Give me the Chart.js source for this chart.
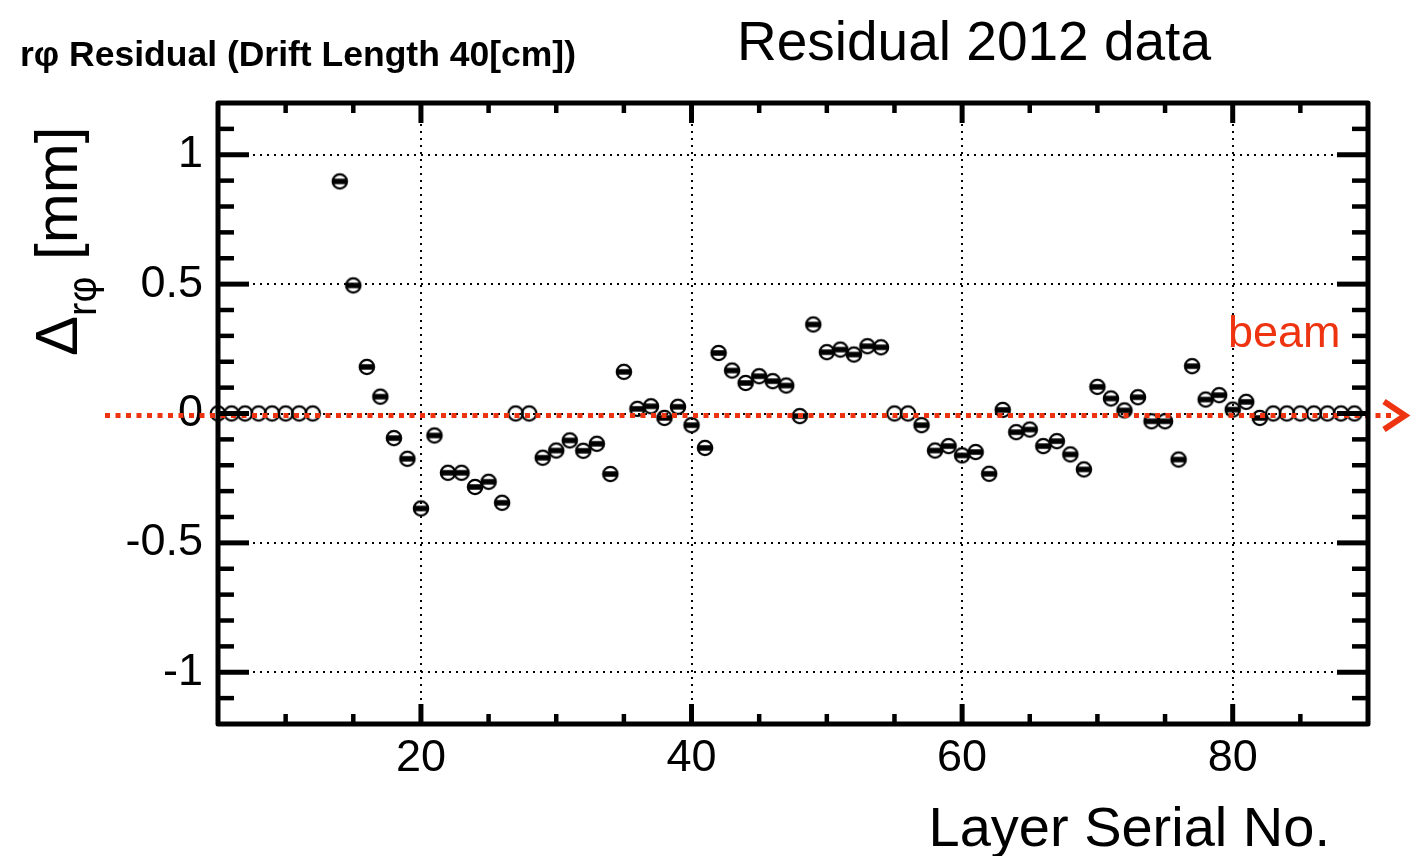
<!DOCTYPE html>
<html>
<head>
<meta charset="utf-8">
<script src="https://cdn.jsdelivr.net/npm/chart.js@4.4.1/dist/chart.umd.min.js"></script>
<style>
  body { margin: 0; background: #fff; }
  #wrap { position: relative; width: 1422px; height: 856px; font-family: "Liberation Sans", Arial, sans-serif; }
  #wrap div.txt { position: absolute; line-height: 1; white-space: nowrap; color: #000; }
  #title { left: 737px; top: 14px; font-size: 55px; }
  #subtitle { left: 20px; top: 37px; font-size: 35.5px; font-weight: bold; }
  #xtitle { right: 92px; top: 799px; font-size: 56px; }
  #beam { left: 1228px; top: 309px; font-size: 45px; color: #ee3311 !important; }
  #ytitle { left: 27px; top: 356px; font-size: 60px; transform-origin: 0 0; transform: rotate(-90deg); }
  #ytitle span { position: relative; top: 19px; font-size: 40px; }
</style>
</head>
<body>
<div id="wrap">
  <canvas id="residualChart" width="1422" height="856"></canvas>
  <div class="txt" id="title">Residual 2012 data</div>
  <div class="txt" id="subtitle">rφ Residual (Drift Length 40[cm])</div>
  <div class="txt" id="xtitle">Layer Serial No.</div>
  <div class="txt" id="beam">beam</div>
  <div class="txt" id="ytitle">Δ<span>rφ</span> [mm]</div>
</div>
<script>
// measured layers
const layers = [14, 15, 16, 17, 18, 19, 20, 21, 22, 23, 24, 25, 26,
    29, 30, 31, 32, 33, 34, 35, 36, 37, 38, 39, 40, 41, 42, 43, 44, 45, 46, 47, 48, 49, 50, 51, 52, 53, 54,
    57, 58, 59, 60, 61, 62, 63, 64, 65, 66, 67, 68, 69, 70, 71, 72, 73, 74, 75, 76, 77, 78, 79, 80, 81, 82];
const residuals = [0.897, 0.495, 0.18, 0.065, -0.095, -0.175, -0.367, -0.085, -0.229, -0.229, -0.284, -0.264, -0.345,
    -0.171, -0.143, -0.104, -0.144, -0.117, -0.234, 0.161, 0.018, 0.028, -0.017, 0.026, -0.045, -0.133, 0.234, 0.166, 0.118, 0.144, 0.125, 0.108, -0.010, 0.344, 0.237, 0.247, 0.228, 0.26, 0.256,
    -0.045, -0.143, -0.126, -0.162, -0.149, -0.233, 0.014, -0.072, -0.062, -0.126, -0.107, -0.158, -0.216, 0.103, 0.058, 0.012, 0.063, -0.03, -0.03, -0.178, 0.183, 0.054, 0.071, 0.015, 0.045, -0.017];

// layers with no entries (drawn as open circles at 0)
const emptyLayers = [5, 6, 7, 8, 9, 10, 11, 12, 27, 28, 55, 56, 83, 84, 85, 86, 87, 88, 89];
const emptyValues = emptyLayers.map(() => 0);

const xTickValues = [20, 40, 60, 80];
const xMinorTicks = [10, 15, 25, 30, 35, 45, 50, 55, 65, 70, 75, 85];
const yTickValues = [-1, -0.5, 0, 0.5, 1];
const yMinorTicks = [-1.1, -0.9, -0.8, -0.7, -0.6, -0.4, -0.3, -0.2, -0.1, 0.1, 0.2, 0.3, 0.4, 0.6, 0.7, 0.8, 0.9, 1.1];

const RED = '#ee3311';

function makeMarker(withBar) {
    const c = document.createElement('canvas');
    c.width = 20; c.height = 20;
    const g = c.getContext('2d');
    g.beginPath();
    g.arc(10, 10, 7.2, 0, 2 * Math.PI);
    if (withBar) {
        g.save();
        g.clip();
        g.fillStyle = '#000';
        g.fillRect(0, 7.25, 20, 5.5);
        g.restore();
    }
    g.lineWidth = 2.2;
    g.strokeStyle = '#000';
    g.stroke();
    return c;
}

// frame, inward ticks and the beam arrow
const framePlugin = {
    id: 'frame',
    afterDatasetsDraw(chart) {
        const { ctx, scales: { y } } = chart;
        const y0 = y.getPixelForValue(0) + 2;
        ctx.save();
        ctx.strokeStyle = RED;
        ctx.lineWidth = 5;
        ctx.setLineDash([5, 5.5]);
        ctx.beginPath();
        ctx.moveTo(105, y0);
        ctx.lineTo(1396, y0);
        ctx.stroke();
        ctx.setLineDash([]);
        ctx.lineWidth = 6;
        ctx.beginPath();
        ctx.moveTo(1384, y0 - 14);
        ctx.lineTo(1405, y0);
        ctx.lineTo(1384, y0 + 14);
        ctx.stroke();
        ctx.restore();
    },
    afterDraw(chart) {
        const { ctx, chartArea: a, scales: { x, y } } = chart;
        ctx.save();
        ctx.strokeStyle = '#000';
        ctx.lineCap = 'butt';
        const tick = (x1, y1, x2, y2, w) => {
            ctx.lineWidth = w;
            ctx.beginPath();
            ctx.moveTo(x1, y1);
            ctx.lineTo(x2, y2);
            ctx.stroke();
        };
        yTickValues.forEach(v => {
            const p = y.getPixelForValue(v);
            tick(a.left, p, a.left + 31, p, 5);
            tick(a.right, p, a.right - 31, p, 5);
        });
        yMinorTicks.forEach(v => {
            const p = y.getPixelForValue(v);
            tick(a.left, p, a.left + 16, p, 4.5);
            tick(a.right, p, a.right - 16, p, 4.5);
        });
        xTickValues.forEach(v => {
            const p = x.getPixelForValue(v);
            tick(p, a.bottom, p, a.bottom - 20, 5);
            tick(p, a.top, p, a.top + 20, 5);
        });
        xMinorTicks.forEach(v => {
            const p = x.getPixelForValue(v);
            tick(p, a.bottom, p, a.bottom - 10, 4.5);
            tick(p, a.top, p, a.top + 10, 4.5);
        });
        ctx.lineWidth = 5;
        ctx.lineJoin = 'round';
        ctx.strokeRect(a.left, a.top, a.right - a.left, a.bottom - a.top);
        ctx.restore();
    }
};

Chart.defaults.font.family = '"Liberation Sans", Arial, sans-serif';
Chart.defaults.color = '#000';

const chart = new Chart(document.getElementById('residualChart'), {
    type: 'scatter',
    data: {
        datasets: [
            {
                label: 'residual',
                data: layers.map((l, i) => ({ x: l, y: residuals[i] })),
                pointStyle: makeMarker(true),
                pointRadius: 8,
                clip: false
            },
            {
                label: 'empty',
                data: emptyLayers.map((l, i) => ({ x: l, y: emptyValues[i] })),
                pointStyle: makeMarker(false),
                pointRadius: 8,
                clip: false
            }
        ]
    },
    options: {
        responsive: false,
        animation: false,
        events: [],
        layout: { padding: { top: 103, right: 54, left: 0, bottom: 0 } },
        plugins: {
            legend: { display: false },
            tooltip: { enabled: false }
        },
        scales: {
            x: {
                type: 'linear',
                min: 5,
                max: 90,
                afterBuildTicks: s => { s.ticks = xTickValues.map(v => ({ value: v })); },
                afterFit: s => { s.height = 132; },
                grid: { color: '#000', lineWidth: 2, drawTicks: false },
                border: { display: false, dash: [2, 5] },
                ticks: { font: { size: 45 }, padding: 8, maxRotation: 0, callback: v => String(v) }
            },
            y: {
                type: 'linear',
                min: -1.2,
                max: 1.2,
                afterBuildTicks: s => { s.ticks = yTickValues.map(v => ({ value: v })); },
                afterFit: s => { s.width = 218; },
                grid: { color: '#000', lineWidth: 2, drawTicks: false },
                border: { display: false, dash: [2, 5] },
                ticks: { font: { size: 45 }, padding: 15, callback: v => String(v) }
            }
        }
    },
    plugins: [framePlugin]
});
</script>
</body>
</html>
